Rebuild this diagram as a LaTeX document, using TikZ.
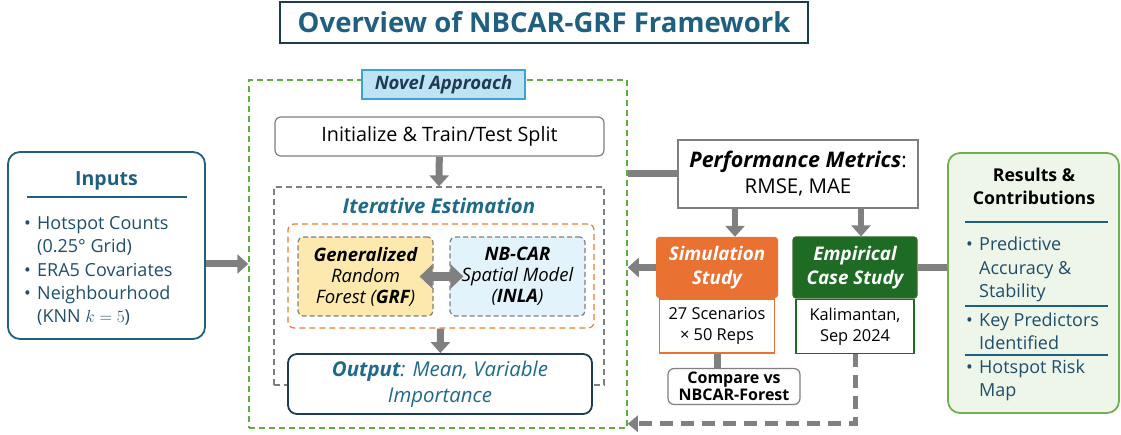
\documentclass[tikz,border=0pt]{standalone}
\usepackage{fontspec}
\setmainfont{Open Sans}
\usetikzlibrary{arrows.meta,positioning}

\definecolor{headblue}{HTML}{1F5F7F}
\definecolor{darkframe}{HTML}{1C3D4F}
\definecolor{inkblue}{HTML}{1F4E6B}
\definecolor{itblue}{HTML}{1F6A8A}
\definecolor{novelgreen}{HTML}{5DAF3F}
\definecolor{labelfill}{HTML}{BDE3F5}
\definecolor{labelframe}{HTML}{3BA3D6}
\definecolor{labelink}{HTML}{1F3A55}
\definecolor{boxgray}{HTML}{7F7F7F}
\definecolor{orangedash}{HTML}{ED7D31}
\definecolor{grffill}{HTML}{FDE9AE}
\definecolor{carfill}{HTML}{E2F3FB}
\definecolor{simorange}{HTML}{E97132}
\definecolor{empgreen}{HTML}{1E6B24}
\definecolor{resfill}{HTML}{EEF6E9}
\definecolor{resframe}{HTML}{70B050}
\definecolor{arrowgray}{HTML}{808080}

\newcommand{\itm}{\makebox[13pt][l]{\textbullet}}
\newcommand{\cont}{\hspace*{13pt}}

\tikzset{
  x=1pt, y=-1pt,
  txt/.style={font=\fontsize{18}{23.4}\selectfont, inner sep=0pt},
  plainbox/.style={draw=boxgray, line width=1.2pt, rounded corners=6pt, fill=white},
  dashbox/.style={draw=boxgray, line width=1.2pt, dashed, dash pattern=on 5pt off 3pt, rounded corners=5pt},
  fat/.style={draw=arrowgray, line width=7pt, -{Triangle[length=11pt,width=19pt]}},
  fatline/.style={draw=arrowgray, line width=7pt},
  rule/.style={draw=headblue, line width=1.3pt},
}

\begin{document}
\begin{tikzpicture}
  \useasboundingbox (0,0) rectangle (1121,435);

  % title
  \node[draw=darkframe, line width=2pt, minimum width=528pt, minimum height=41pt,
        font=\fontsize{27.5}{30}\selectfont\bfseries, text=headblue] (title) at (544,22.5) {Overview of NBCAR-GRF Framework};

  % inputs
  \node[draw=headblue, line width=1.8pt, rounded corners=12pt, minimum width=197pt, minimum height=187pt] (inp) at (106.5,245.5) {};
  \node[txt, font=\fontsize{19.5}{23}\selectfont\bfseries, text=headblue] (inphead) at (106.5,181) {Inputs};
  \draw[rule] (27,197) -- (187,197);
  \node[txt, text=inkblue, align=left, anchor=west] (inplist) at (24,271)
    {\itm Hotspot Counts\\\cont(0.25° Grid)\\\itm ERA5 Covariates\\\itm Neighbourhood\\\cont(KNN $k=5$)};

  % novel approach frame
  \node[draw=novelgreen, line width=1.5pt, dashed, dash pattern=on 6pt off 4pt, minimum width=378pt, minimum height=348pt] (novel) at (438,254) {};
  \node[draw=labelframe, fill=labelfill, line width=1.2pt, minimum width=163pt, minimum height=29pt,
        font=\fontsize{18.5}{20}\selectfont\bfseries\itshape, text=labelink] (novlabel) at (443.5,84.5) {Novel Approach};

  \node[plainbox, minimum width=329pt, minimum height=39pt, font=\fontsize{19.8}{22}\selectfont] (init) at (439.5,136.5) {Initialize \& Train/Test Split};

  \node[draw=boxgray, line width=1.2pt, dashed, dash pattern=on 6pt off 4pt, minimum width=330pt, minimum height=198pt] (iter) at (439,286) {};
  \node[txt, font=\fontsize{20.4}{22}\selectfont\bfseries\itshape, text=itblue] (iterhead) at (439,206) {Iterative Estimation};

  \node[draw=orangedash, line width=1.2pt, dashed, dash pattern=on 6pt off 4pt, rounded corners=6pt, minimum width=306pt, minimum height=104pt] (loop) at (441,276) {};

  \node[dashbox, fill=grffill, minimum width=135pt, minimum height=79pt, align=center,
        font=\fontsize{18.5}{21}\selectfont\itshape] (grf) at (365.5,276.5) {\textbf{Generalized}\\Random\\Forest (\textbf{GRF})};
  \node[dashbox, fill=carfill, minimum width=135pt, minimum height=79pt, align=center,
        font=\fontsize{18.5}{21}\selectfont\itshape] (car) at (517.5,276.5) {\textbf{NB-CAR}\\Spatial Model\\(\textbf{INLA})};
  \draw[draw=arrowgray, line width=9pt, {Triangle[length=13pt,width=24pt]}-{Triangle[length=13pt,width=24pt]}]
    ([xshift=-14pt]grf.east) -- ([xshift=14pt]car.west);

  \node[draw=darkframe, line width=1.8pt, rounded corners=9pt, fill=white, minimum width=304pt, minimum height=60pt, align=center,
        font=\fontsize{20.4}{26}\selectfont\itshape, text=itblue] (out) at (440,384) {\textbf{Output}: Mean, Variable\\Importance};

  \draw[fat] (init) -- (iter.north);
  \draw[fat] (loop) -- (out);

  % performance and studies
  \node[draw=boxgray, line width=1.2pt, fill=white, minimum width=240pt, minimum height=68pt, align=center,
        font=\fontsize{20.4}{26}\selectfont] (perf) at (798,174)
        {{\fontsize{21.5}{26}\selectfont\textbf{\textit{Performance Metrics}}}:\\RMSE, MAE};

  \node[fill=simorange, rounded corners=3pt, minimum width=122pt, minimum height=61pt, align=center, text=white,
        font=\fontsize{18.8}{24}\selectfont\bfseries\itshape] (sim) at (717,267.5) {Simulation\\Study};
  \node[draw=simorange, line width=1.5pt, minimum width=115pt, minimum height=54pt, align=center,
        font=\fontsize{16.4}{21}\selectfont, anchor=north] (simsub) at (sim.south) {27 Scenarios\\× 50 Reps};

  \node[draw=novelgreen!60!black, line width=1.2pt, fill=empgreen, rounded corners=3pt, minimum width=124pt, minimum height=61pt, align=center, text=white,
        font=\fontsize{18.8}{24}\selectfont\bfseries\itshape] (emp) at (855,267.5) {Empirical\\Case Study};
  \node[draw=empgreen, line width=1.5pt, minimum width=118pt, minimum height=54pt, align=center,
        font=\fontsize{16.4}{21}\selectfont, anchor=north] (empsub) at (emp.south) {Kalimantan,\\Sep 2024};

  \node[plainbox, minimum width=132pt, minimum height=35pt, align=center,
        font=\fontsize{16}{17.5}\selectfont\bfseries] (cmp) at (734,386.5) {Compare vs\\NBCAR-Forest};

  \draw[fatline] (perf.west) -- (perf.west -| novel.east);
  \draw[fat, line width=6pt] ([xshift=18pt]sim.north |- perf.south) -- ([xshift=18pt]sim.north);
  \draw[fat, line width=6pt] ([xshift=6pt]emp.north |- perf.south) -- ([xshift=6pt]emp.north);
  \draw[fat] (sim.west) -- (sim.west -| novel.east);
  \draw[fatline] (simsub.south) -- (simsub.south |- cmp.north);
  \draw[draw=arrowgray, line width=5pt, dash pattern=on 13pt off 8pt, -{Triangle[length=10pt,width=16pt]}]
    (empsub.south) |- ([yshift=5pt]novel.south east);

  % inputs to approach
  \draw[fat] (inp.east |- 0,264) -- (novel.west |- 0,264);

  % results
  \node[draw=resframe, line width=1.8pt, fill=resfill, rounded corners=12pt, minimum width=171pt, minimum height=260pt] (res) at (1033.5,283) {};
  \draw[fatline] (emp.east) -- (emp.east -| res.west);
  \node[txt, align=center, font=\fontsize{17.7}{23}\selectfont\bfseries] (reshead) at (1034,186) {Results \&\\Contributions};
  \draw[rule] (965,222) -- (1108,222);
  \node[txt, text=inkblue, align=left, anchor=west] (res1) at (966,269.5) {\itm Predictive\\\cont Accuracy \&\\\cont Stability};
  \draw[rule] (965,306) -- (1108,306);
  \node[txt, text=inkblue, align=left, anchor=west] (res2) at (966,331) {\itm Key Predictors\\\cont Identified};
  \draw[rule] (965,355) -- (1108,355);
  \node[txt, text=inkblue, align=left, anchor=west] (res3) at (966,380.5) {\itm Hotspot Risk\\\cont Map};
\end{tikzpicture}
\end{document}
